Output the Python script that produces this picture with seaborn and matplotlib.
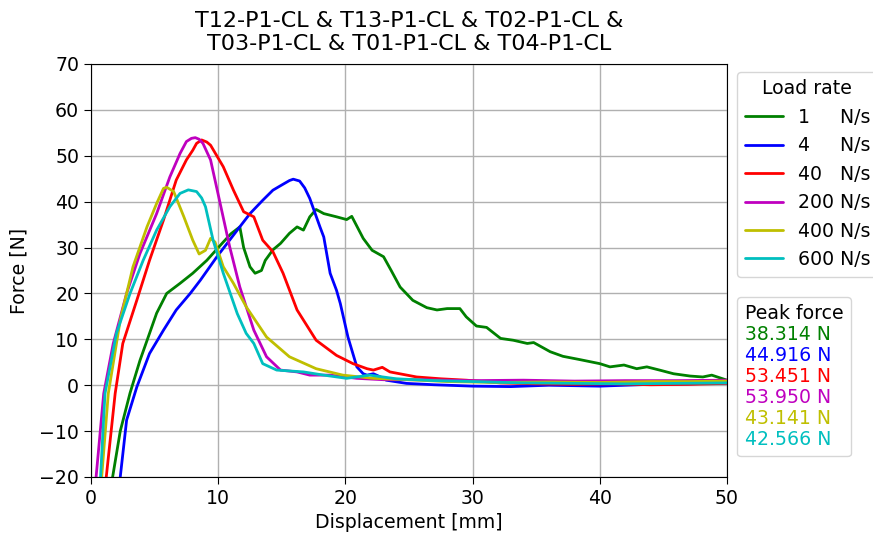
import matplotlib
matplotlib.use("Agg")
import matplotlib.pyplot as plt
import seaborn as sns
import pandas as pd
from matplotlib.lines import Line2D

# ---------------- data ----------------
rates = ["1", "4", "40", "200", "400", "600"]
rate_labels = ["1     N/s", "4     N/s", "40   N/s", "200 N/s", "400 N/s", "600 N/s"]
colors = ["g", "b", "r", "m", "y", "c"]
peak_forces = [38.314, 44.916, 53.451, 53.950, 43.141, 42.566]

x_1 = [1.5, 1.7, 2.3, 3.07, 3.85, 4.5, 5.16, 5.95, 7.0, 8.0, 9.1, 10.4, 11.0, 11.7, 12.0, 12.5,
       12.9, 13.4, 13.7, 14.3, 14.9, 15.6, 16.2, 16.7, 17.2, 17.7, 18.3, 19.3, 20.1, 20.5, 21.4,
       22.1, 23.0, 23.6, 24.3, 25.3, 26.4, 27.2, 28.0, 29.0, 29.5, 30.3, 31.1, 32.2, 33.2, 34.3,
       34.8, 36.1, 37.1, 38.4, 40.0, 40.8, 41.9, 42.9, 43.7, 44.7, 45.8, 47.1, 48.1, 48.8, 50.0]
y_1 = [-25, -20, -10, -1.7, 5.4, 10.5, 15.7, 20, 22.2, 24.4, 27.2, 31.2, 33.0, 34.5, 30, 25.8,
       24.4, 25, 27.2, 29.5, 30.9, 33.1, 34.5, 33.8, 36.7, 38.3, 37.4, 36.7, 36.1, 36.8, 32,
       29.4, 28, 25, 21.4, 18.5, 16.9, 16.4, 16.7, 16.7, 14.9, 12.9, 12.6, 10.2, 9.8, 9.1,
       9.3, 7.3, 6.3, 5.6, 4.7, 4.0, 4.4, 3.6, 4.0, 3.3, 2.5, 2.0, 1.8, 2.2, 1.1]

x_4 = [2.1, 2.3, 2.8, 3.6, 4.6, 5.7, 6.7, 7.8, 8.6, 9.9, 11.5, 12.5, 13.5, 14.3, 15.1, 15.6,
       15.9, 16.4, 16.8, 17.2, 18.0, 18.3, 18.8, 19.3, 19.6, 20.2, 20.9, 21.4, 21.7, 22.2, 23.0,
       23.2, 24.8, 27, 30, 33, 36, 40, 44, 47, 50]
y_4 = [-25, -20, -7.6, -0.4, 6.9, 12, 16.4, 20, 22.9, 28, 33.8, 37.4, 40.3, 42.5, 43.8, 44.6,
       44.9, 44.5, 43.0, 40.7, 34.5, 32.3, 24.4, 20.7, 17.8, 10.5, 4.0, 2.5, 2.2, 2.5, 1.5,
       1.1, 0.4, 0.1, -0.2, -0.3, 0.0, -0.2, 0.2, 0.3, 0.5]

x_40 = [1.0, 1.2, 1.9, 2.5, 3.6, 4.6, 5.7, 6.7, 7.5, 8.0, 8.3, 8.7, 9.1, 9.4, 10.4, 11.2, 12.0,
        12.8, 13.5, 14.3, 15.1, 16.2, 17.7, 19.3, 20.6, 21.7, 22.2, 22.9, 23.5, 25.6, 27.5, 29.5,
        32.2, 35, 38, 41, 44, 47, 50]
y_40 = [-25, -20, -1.8, 9.1, 18.5, 27.2, 36, 44.7, 49.1, 51.2, 52.7, 53.45, 53.0, 52.3, 47.6,
        42.5, 37.8, 36.7, 31.6, 29.1, 24.4, 16.4, 9.8, 6.5, 4.7, 3.6, 3.3, 3.9, 2.9, 1.8, 1.4,
        1.1, 0.5, 0.3, 0.2, 0.3, 0.1, 0.2, 0.4]

x_200 = [0.3, 0.4, 1.0, 1.75, 2.8, 3.85, 5.16, 6.2, 7.0, 7.5, 7.9, 8.2, 8.5, 8.8, 9.4, 10.1, 10.9,
         11.7, 12.8, 13.8, 14.9, 16.2, 17.2, 18.8, 20.9, 23, 26, 30, 34, 38, 42, 46, 50]
y_200 = [-25, -20, -1.8, 9.1, 20, 28.7, 37.4, 45.4, 50.5, 53.1, 53.8, 53.95, 53.6, 52.7, 49.1,
         40.3, 30.2, 21.4, 12, 6.2, 3.3, 2.9, 2.2, 2.2, 1.5, 1.2, 1.2, 1.0, 1.1, 0.9, 1.0, 1.0,
         1.1]

x_400 = [0.7, 0.84, 1.36, 2.3, 3.3, 4.4, 5.16, 5.7, 5.95, 6.5, 7.3, 8.0, 8.5, 9.0, 9.4, 9.75,
         10.4, 11.2, 12.2, 13.8, 15.6, 17.7, 19.8, 22.2, 25, 28, 32, 36, 40, 44, 47, 50]
y_400 = [-25, -20, -1.8, 14.2, 25.8, 34.5, 39.6, 42.9, 43.14, 42.2, 36.7, 31.6, 28.6, 29.4,
         32.0, 31.2, 25.8, 22.2, 17.1, 10.5, 6.2, 3.6, 2.2, 1.5, 1.2, 0.8, 0.6, 0.7, 0.6, 0.8,
         0.8, 0.9]

x_600 = [0.6, 0.75, 1.1, 2.0, 3.07, 4.1, 5.16, 6.2, 7.0, 7.65, 8.3, 8.7, 9.0, 9.6, 10.4, 11.5,
         12.2, 12.8, 13.5, 14.6, 16.7, 18.3, 20.1, 21.9, 24, 27, 30, 34, 38, 42, 46, 50]
y_600 = [-25, -20, -1.8, 11.3, 20, 27.2, 33.8, 38.9, 41.8, 42.57, 42.2, 40.8, 38.9, 31.6, 24.4,
         15.6, 11.3, 9.1, 4.7, 3.3, 2.9, 2.2, 1.5, 2.2, 1.4, 1.0, 0.8, 0.5, 0.4, 0.3, 0.4, 0.5]

series_x = [x_1, x_4, x_40, x_200, x_400, x_600]
series_y = [y_1, y_4, y_40, y_200, y_400, y_600]

x_ticks = [0, 10, 20, 30, 40, 50]
y_ticks = [-20, -10, 0, 10, 20, 30, 40, 50, 60, 70]

title = "T12-P1-CL & T13-P1-CL & T02-P1-CL &\nT03-P1-CL & T01-P1-CL & T04-P1-CL"

# ---------------- plot ----------------
sns.set_style("white")
plt.rcParams["font.family"] = ["DejaVu Sans"]
plt.rcParams["text.color"] = "black"
plt.rcParams["axes.labelcolor"] = "black"
plt.rcParams["xtick.color"] = "black"
plt.rcParams["ytick.color"] = "black"

FS = 13.6

fig = plt.figure(figsize=(8.73, 5.38), dpi=100)
ax = fig.add_axes([91 / 873, 1 - 477 / 538, (727 - 91) / 873, (477 - 64) / 538])

handles = []
for xs, ys, col, lab in zip(series_x, series_y, colors, rate_labels):
    df = pd.DataFrame({"x": xs, "y": ys})
    sns.lineplot(data=df, x="x", y="y", ax=ax, color=col, linewidth=2,
                 sort=False, estimator=None)
    handles.append(Line2D([0], [0], color=col, linewidth=2, label=lab))

ax.set_xlim(0, 50)
ax.set_ylim(-20, 70)
ax.set_xticks(x_ticks)
ax.set_yticks(y_ticks)
ax.grid(True, color="#b0b0b0", linewidth=1.0)
ax.set_axisbelow(True)
for s in ax.spines.values():
    s.set_color("black")
    s.set_linewidth(0.8)
ax.tick_params(axis="both", labelsize=FS, direction="out", length=5, width=0.8,
               color="black", labelcolor="black", bottom=True, left=True)
ax.set_xlabel("Displacement [mm]", fontsize=FS, color="black")
ax.set_ylabel("Force [N]", fontsize=FS, color="black", labelpad=8)
ax.set_title(title, fontsize=16, pad=10, color="black")

leg1 = ax.legend(handles=handles, title="Load rate", loc="upper left",
                 bbox_to_anchor=(1.016, 0.981), borderaxespad=0, fontsize=FS,
                 title_fontsize=FS, frameon=True, handlelength=2.0)
leg1.get_frame().set_edgecolor("#cccccc")
ax.add_artist(leg1)

peak_handles = [Line2D([0], [0], color="none", label=f"{p:.3f} N") for p in peak_forces]
leg2 = ax.legend(handles=peak_handles, title="Peak force", loc="upper left",
                 bbox_to_anchor=(1.016, 0.436), borderaxespad=0, fontsize=FS,
                 title_fontsize=FS, frameon=True, handlelength=0, handletextpad=0,
                 labelspacing=0.1, labelcolor=colors, alignment="left")
leg2.get_frame().set_edgecolor("#cccccc")

fig.savefig("out.png", dpi=100)
